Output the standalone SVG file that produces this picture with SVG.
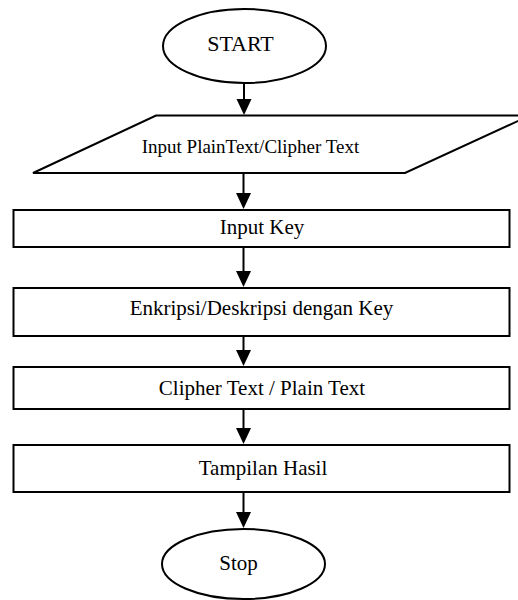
<svg xmlns="http://www.w3.org/2000/svg" width="518" height="600" viewBox="0 0 518 600">
  <defs>
    <style>
      .shape { fill: #fff; stroke: #000; stroke-width: 2; }
      .label { font-family: "Liberation Serif", "Times New Roman", serif; font-size: 21px; fill: #000; text-anchor: middle; }
      .small { font-size: 19px; }
      .big { font-size: 22px; }
      .conn { stroke: #000; stroke-width: 2; fill: none; }
      .head { fill: #000; }
    </style>
  </defs>

  <rect width="518" height="600" fill="#fff"/>

  <!-- connectors: shaft plus filled triangular head -->
  <g id="connectors">
    <line class="conn" x1="244" y1="83" x2="244" y2="102"/>
    <polygon class="head" points="236.5,99 251.5,99 244,115"/>

    <line class="conn" x1="243.5" y1="173" x2="243.5" y2="196"/>
    <polygon class="head" points="236,193 251,193 243.5,209"/>

    <line class="conn" x1="243.5" y1="247" x2="243.5" y2="274"/>
    <polygon class="head" points="236,271 251,271 243.5,287"/>

    <line class="conn" x1="243.5" y1="336" x2="243.5" y2="353"/>
    <polygon class="head" points="236,350 251,350 243.5,366"/>

    <line class="conn" x1="243.5" y1="409" x2="243.5" y2="431"/>
    <polygon class="head" points="236,428 251,428 243.5,444"/>

    <line class="conn" x1="243.5" y1="492" x2="243.5" y2="515"/>
    <polygon class="head" points="236,512 251,512 243.5,528"/>
  </g>

  <g id="start">
    <ellipse class="shape" cx="244.5" cy="46" rx="81.5" ry="37"/>
    <text class="label big" x="240.5" y="51">START</text>
  </g>

  <g id="input-text">
    <polygon class="shape" points="156,115.5 530,115.5 405,173 33,173"/>
    <text class="label small" x="250.5" y="153">Input PlainText/Clipher Text</text>
  </g>

  <g id="input-key">
    <rect class="shape" x="13.5" y="210" width="496" height="37"/>
    <text class="label" x="262" y="234">Input Key</text>
  </g>

  <g id="process">
    <rect class="shape" x="13.5" y="288" width="496" height="48"/>
    <text class="label" x="261.5" y="315">Enkripsi/Deskripsi dengan Key</text>
  </g>

  <g id="result-text">
    <rect class="shape" x="13.5" y="367" width="496" height="42"/>
    <text class="label" x="262" y="395">Clipher Text / Plain Text</text>
  </g>

  <g id="display">
    <rect class="shape" x="13.5" y="445" width="496" height="47"/>
    <text class="label" x="263" y="475">Tampilan Hasil</text>
  </g>

  <g id="stop">
    <ellipse class="shape" cx="243.5" cy="564" rx="81.5" ry="35"/>
    <text class="label" x="238.5" y="570">Stop</text>
  </g>
</svg>
